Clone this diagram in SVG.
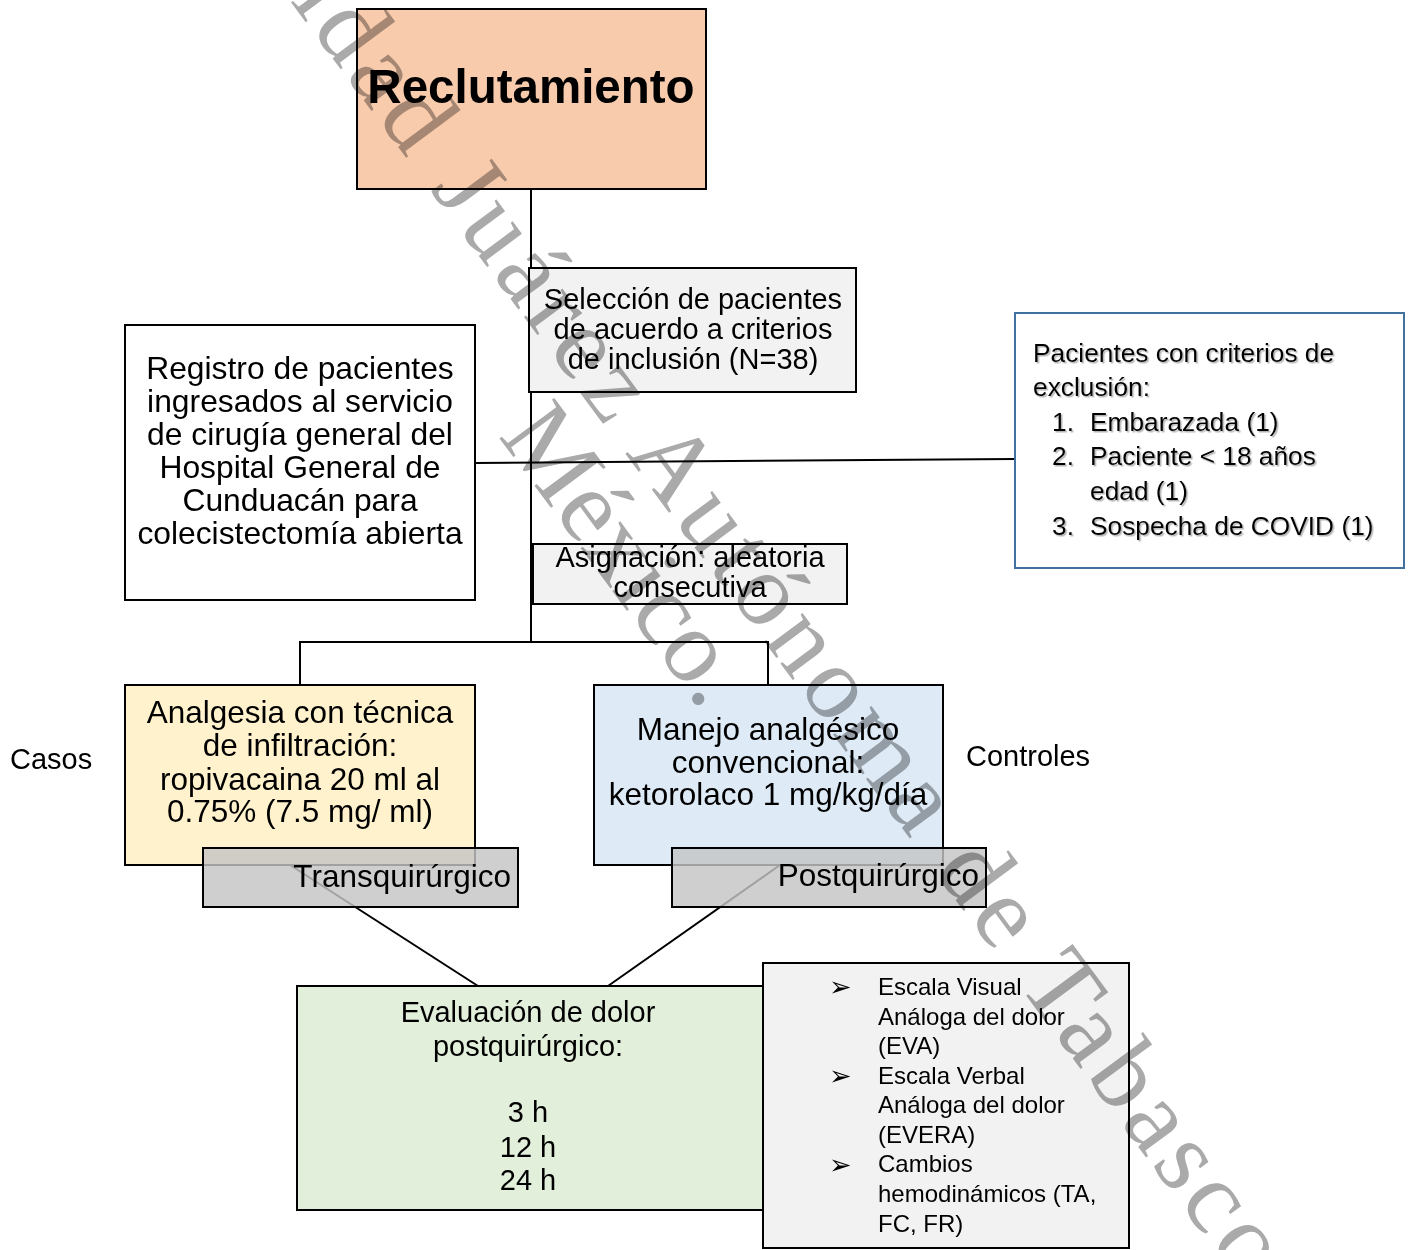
<svg xmlns="http://www.w3.org/2000/svg" width="1408" height="1250" viewBox="0 0 1408 1250">
<defs>
<style>
.t{font-family:"Liberation Sans",Arial,sans-serif;fill:#000}
.c{text-anchor:middle}
.b{stroke:#000;stroke-width:2}
.ln{stroke:#000;stroke-width:2;fill:none}
.wm{font-family:"Liberation Serif","Times New Roman",serif;font-size:104px;letter-spacing:6px;fill:#aaaaaa;mix-blend-mode:multiply}
</style>
<filter id="sh" x="-5%" y="-20%" width="110%" height="140%">
<feDropShadow dx="1.5" dy="1.5" stdDeviation="0.7" flood-color="#777" flood-opacity="0.55"/>
</filter>
</defs>
<rect width="1408" height="1250" fill="#fff"/>

<g id="connectors">
<line class="ln" x1="531" y1="189" x2="531" y2="642"/>
<line class="ln" x1="475" y1="463" x2="1015" y2="459"/>
<polyline class="ln" points="300,686 300,642 768,642 768,686"/>
</g>

<g id="reclutamiento">
<rect class="b" x="357" y="9" width="349" height="180" fill="#f8cbad"/>
<text class="t c" x="531" y="103" font-size="47.5" font-weight="bold">Reclutamiento</text>
</g>

<g id="seleccion">
<rect class="b" x="529" y="268" width="327" height="124" fill="#f2f2f2"/>
<text class="t c" font-size="29"><tspan x="693" y="309">Selección de pacientes</tspan><tspan x="693" y="339">de acuerdo a criterios</tspan><tspan x="693" y="369">de inclusión (N=38)</tspan></text>
</g>

<g id="registro">
<rect class="b" x="125" y="325" width="350" height="275" fill="#fff"/>
<text class="t c" font-size="31.8"><tspan x="300" y="379">Registro de pacientes</tspan><tspan x="300" y="412">ingresados al servicio</tspan><tspan x="300" y="445">de cirugía general del</tspan><tspan x="300" y="478">Hospital General de</tspan><tspan x="300" y="511">Cunduacán para</tspan><tspan x="300" y="544">colecistectomía abierta</tspan></text>
</g>

<g id="exclusion">
<rect x="1015" y="313" width="389" height="255" fill="#fff" stroke="#41719c" stroke-width="2"/>
<g filter="url(#sh)">
<text class="t" font-size="26.3"><tspan x="1033" y="362">Pacientes con criterios de</tspan><tspan x="1033" y="396">exclusión:</tspan></text>
<text class="t" font-size="26.3"><tspan x="1052" y="431">1.</tspan><tspan x="1090" y="431">Embarazada (1)</tspan><tspan x="1052" y="465">2.</tspan><tspan x="1090" y="465">Paciente &lt; 18 años</tspan><tspan x="1090" y="500">edad (1)</tspan><tspan x="1052" y="535">3.</tspan><tspan x="1090" y="535">Sospecha de COVID (1)</tspan></text>
</g>
</g>

<g id="asignacion">
<rect class="b" x="533" y="544" width="314" height="60" fill="#f2f2f2"/>
<text class="t c" font-size="29"><tspan x="690" y="567">Asignación: aleatoria</tspan><tspan x="690" y="597">consecutiva</tspan></text>
</g>

<g id="casos-label"><text class="t" x="10" y="769" font-size="29">Casos</text></g>
<g id="controles-label"><text class="t" x="966" y="766" font-size="29">Controles</text></g>

<g id="casos">
<rect class="b" x="125" y="685" width="350" height="180" fill="#fff2cc"/>
<text class="t c" font-size="31.5"><tspan x="300" y="723">Analgesia con técnica</tspan><tspan x="300" y="756">de infiltración:</tspan><tspan x="300" y="790">ropivacaina 20 ml al</tspan><tspan x="300" y="822">0.75% (7.5 mg/ ml)</tspan></text>
</g>

<g id="controles">
<rect class="b" x="594" y="685" width="349" height="180" fill="#deebf7"/>
<text class="t c" font-size="31.5"><tspan x="768" y="740">Manejo analgésico</tspan><tspan x="768" y="773">convencional:</tspan><tspan x="768" y="805">ketorolaco 1 mg/kg/día</tspan></text>
</g>

<g id="diagonals">
<line class="ln" x1="290" y1="865" x2="478" y2="986"/>
<line class="ln" x1="780" y1="865" x2="608" y2="986"/>
</g>

<g id="transquirurgico">
<rect class="b" x="203" y="848" width="315" height="59" fill="#c4c4c4" fill-opacity="0.82"/>
<text class="t" x="511" y="887" font-size="31.5" text-anchor="end">Transquirúrgico</text>
</g>

<g id="postquirurgico">
<rect class="b" x="672" y="848" width="314" height="59" fill="#c4c4c4" fill-opacity="0.82"/>
<text class="t" x="979" y="886" font-size="31.5" text-anchor="end">Postquirúrgico</text>
</g>

<g id="evaluacion">
<rect class="b" x="297" y="986" width="466" height="224" fill="#e2efda"/>
<text class="t c" font-size="29"><tspan x="528" y="1022">Evaluación de dolor</tspan><tspan x="528" y="1056">postquirúrgico:</tspan><tspan x="528" y="1122">3 h</tspan><tspan x="528" y="1157">12 h</tspan><tspan x="528" y="1190">24 h</tspan></text>
</g>

<g id="escalas">
<rect class="b" x="763" y="963" width="366" height="285" fill="#f2f2f2"/>
<g font-family="'DejaVu Sans',sans-serif" font-size="27">
<text x="829" y="996">➢</text>
<text x="829" y="1085">➢</text>
<text x="829" y="1174">➢</text>
</g>
<text class="t" font-size="24"><tspan x="878" y="995">Escala Visual</tspan><tspan x="878" y="1025">Análoga del dolor</tspan><tspan x="878" y="1054">(EVA)</tspan><tspan x="878" y="1084">Escala Verbal</tspan><tspan x="878" y="1113">Análoga del dolor</tspan><tspan x="878" y="1143">(EVERA)</tspan><tspan x="878" y="1172">Cambios</tspan><tspan x="878" y="1202">hemodinámicos (TA,</tspan><tspan x="878" y="1232">FC, FR)</tspan></text>
</g>

<g id="watermark" transform="translate(69,-298) rotate(53.5)">
<text class="wm" x="0" y="0">Universidad Juárez Autónoma de Tabasco</text>
<text class="wm" x="845" y="92" style="letter-spacing:0">México.</text>
</g>
</svg>
